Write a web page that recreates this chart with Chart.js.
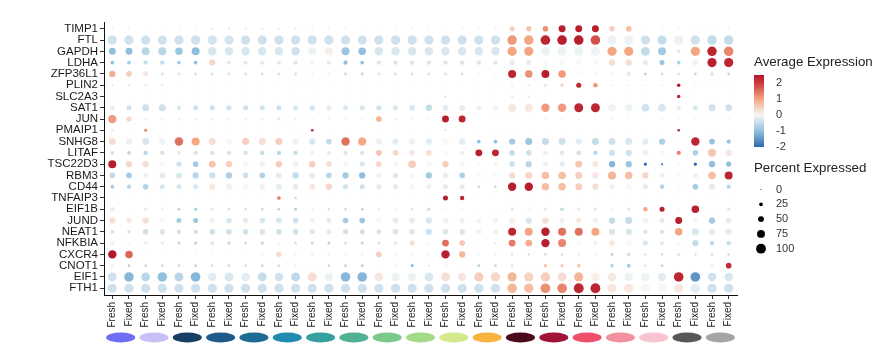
<!DOCTYPE html>
<html>
<head>
<meta charset="utf-8">
<script src="https://cdn.jsdelivr.net/npm/chart.js@4.4.1/dist/chart.umd.min.js"></script>
<style>
  body { margin: 0; background: #fff; }
  #wrap { width: 877px; height: 347px; }
</style>
</head>
<body>
<div id="wrap"><canvas id="chartId" width="877" height="347"></canvas></div>
<script>
var genes = ["TIMP1", "FTL", "GAPDH", "LDHA", "ZFP36L1", "PLIN2", "SLC2A3", "SAT1", "JUN", "PMAIP1", "SNHG8", "LITAF",
  "TSC22D3", "RBM3", "CD44", "TNFAIP3", "EIF1B", "JUND", "NEAT1", "NFKBIA", "CXCR4", "CNOT1", "EIF1", "FTH1"];
var conditions = ["Fresh", "Fixed"];
var groupColors = ["#6f6df2", "#c8c0f6", "#173e63", "#1d5a89", "#1e6b94", "#1f8bae", "#35a09f", "#4fb295", "#7cc98e",
  "#a3da87", "#d4e98c", "#f7b33c", "#4a0a1c", "#a0143a", "#ef4f6a", "#f4919f", "#f8c4d0", "#575757", "#a5a5a5"];

// percent expressed, one row per gene, 38 columns (19 groups x Fresh/Fixed)
var pct = [
  [4,4,4,4,4,4,11,11,6,6,8,11, 4,4,4,4,4,4,4,4,4,4,4,4, 40,43,47,63,63,63,43,47,4,4,4,11,4,4],
  [92,92,92,92,92,92,92,92,92,92,92,92, 92,92,92,92,92,92,92,92,92,92,92,92, 96,96,98,98,98,98,92,92,92,92,92,92,96,96],
  [63,63,76,76,70,76,82,82,82,82,82,82, 76,76,76,70,82,82,82,82,82,82,82,82, 92,92,88,88,88,88,92,92,88,76,25,92,96,96],
  [25,25,32,32,25,25,55,32,32,32,32,32, 32,32,32,25,32,32,32,32,32,32,32,32, 40,40,40,40,40,40,55,55,40,40,25,47,92,92],
  [55,47,40,18,18,18,18,18,18,18,18,18, 11,11,18,18,18,18,18,18,18,18,8,8, 76,70,76,70,18,18,18,32,14,14,14,14,25,14],
  [5,5,5,5,3,3,3,3,3,3,3,3, 4,4,4,4,4,4,4,4,4,4,4,4, 18,14,18,22,40,32,6,6,6,6,22,14,6,5],
  [3,3,3,3,3,3,3,3,3,3,3,3, 3,3,3,3,3,3,3,3,8,3,3,3, 14,11,3,3,3,3,3,3,3,3,22,3,3,3],
  [32,40,63,63,32,40,40,40,40,40,40,40, 47,40,40,40,40,40,47,55,47,47,40,40, 76,76,82,82,88,88,70,70,70,70,32,40,63,63],
  [80,40,18,14,14,14,14,14,14,14,22,14, 8,8,8,8,47,25,8,8,63,63,8,8, 8,8,6,6,6,6,6,6,6,6,6,6,6,6],
  [11,4,18,4,4,4,4,4,4,4,4,4, 14,4,4,4,4,4,4,4,8,4,4,4, 4,4,4,4,4,4,4,4,4,4,14,4,4,4],
  [63,55,63,55,82,76,63,55,63,63,63,55, 55,47,82,76,55,55,55,55,55,55,25,25, 55,63,63,63,55,63,63,63,55,55,5,82,47,32],
  [25,25,32,32,25,32,32,32,32,32,32,32, 25,25,32,32,47,47,47,47,32,25,63,63, 47,47,40,40,40,32,55,55,47,32,32,47,76,55],
  [76,55,55,40,40,47,63,55,47,47,55,47, 55,47,40,40,47,40,70,47,55,40,11,25, 47,55,40,40,63,47,55,55,18,11,11,18,55,40],
  [47,47,40,47,47,55,55,55,47,47,47,55, 47,47,55,55,40,40,40,55,40,47,25,25, 55,63,70,70,63,55,76,70,55,40,25,40,70,76],
  [25,32,47,40,40,40,55,55,47,47,47,47, 47,55,40,40,40,40,40,40,40,40,11,11, 82,82,70,70,63,55,47,40,40,32,18,47,47,32],
  [4,4,4,4,4,4,4,4,4,4,25,14, 4,4,4,4,4,4,4,4,40,32,4,4, 4,4,4,4,4,4,4,4,4,4,4,4,4,4],
  [32,6,18,18,14,18,14,14,14,14,14,14, 8,11,14,14,8,8,14,18,8,8,6,6, 18,18,18,25,18,18,14,18,32,40,11,70,8,18],
  [55,40,55,40,40,40,40,47,47,47,47,47, 40,40,47,47,40,47,47,55,47,40,32,40, 55,55,55,40,47,40,55,63,47,40,63,47,55,47],
  [25,25,47,47,32,32,47,47,47,47,47,47, 40,40,40,40,40,47,47,55,47,47,40,40, 76,76,82,76,76,76,55,55,32,32,70,63,55,55],
  [32,18,32,18,18,18,25,25,18,18,25,18, 18,18,18,18,18,18,40,25,63,47,8,11, 63,63,82,76,32,32,47,40,40,25,25,55,32,32],
  [82,70,11,11,11,11,11,11,11,14,47,25, 14,14,14,14,47,25,25,25,82,55,8,8, 14,11,14,14,11,8,18,18,14,14,18,14,18,14],
  [11,14,14,14,14,14,14,14,14,14,14,8, 8,14,14,14,8,8,14,8,11,8,14,14, 18,11,22,22,25,5,25,25,14,14,6,5,14,47],
  [88,96,88,96,88,98,82,88,82,88,82,88, 88,82,98,98,82,82,76,88,88,82,92,92, 92,92,92,88,92,82,82,82,82,82,98,98,82,82],
  [92,92,92,92,92,92,92,92,92,92,92,92, 92,92,92,92,92,92,92,92,92,92,92,92, 96,96,98,98,100,100,92,92,92,92,92,92,92,92]
];

// average expression (scaled), same layout
var avgExp = [
  [-0.3,-0.3,-0.2,-0.2,-0.3,-0.3,-0.2,-0.2,-0.3,-0.3,-0.2,-0.2, -0.3,-0.3,-0.3,-0.3,-0.3,-0.3,-0.3,-0.3,-0.3,-0.3,-0.3,-0.3, 0.5,0.6,1.2,2.4,2.4,2.4,0.5,0.7,-0.3,-0.3,-0.3,0,-0.3,-0.3],
  [-0.4,-0.4,-0.4,-0.4,-0.4,-0.4,-0.35,-0.35,-0.4,-0.4,-0.4,-0.4, -0.4,-0.4,-0.4,-0.4,-0.4,-0.4,-0.4,-0.4,-0.4,-0.4,-0.4,-0.4, 1.1,1.0,2.3,2.4,2.4,1.8,-0.1,-0.1,-0.4,-0.5,-0.1,-0.4,-0.5,-0.5],
  [-1.0,-1.0,-0.6,-0.6,-0.9,-1.0,-0.3,-0.3,-0.3,-0.3,-0.3,-0.4, -0.1,0.1,-0.9,-1.0,-0.3,-0.3,-0.3,-0.3,-0.3,-0.3,-0.3,-0.3, 1.0,1.0,-0.1,-0.1,-0.1,-0.1,1.0,1.0,-0.5,-0.8,-0.2,1.0,2.3,1.3],
  [-1.0,-0.8,-0.5,-0.5,-0.8,-1.0,0.4,-0.2,-0.2,-0.2,-0.2,-0.3, -0.1,-0.2,-1.0,-1.0,-0.3,-0.3,-0.3,-0.3,-0.3,-0.3,-0.3,-0.3, -0.2,-0.2,0,0,0,0,0.3,0.3,-0.2,-0.9,-0.7,-0.1,2.4,2.3],
  [0.9,0.5,0.2,-0.3,-0.3,-0.3,-0.3,-0.3,-0.3,-0.3,-0.3,-0.3, -0.1,-0.1,-0.4,-0.5,-0.3,-0.3,-0.3,-0.3,-0.3,-0.3,-0.1,-0.1, 2.3,1.2,2.4,1.1,0,0,0,-0.2,-0.7,-0.5,-0.3,-0.5,-0.3,-0.6],
  [-0.4,-0.4,-0.4,-0.4,0,0,0,0,0,0,0,0, -0.1,-0.1,-0.1,-0.1,-0.1,-0.1,-0.1,-0.1,-0.1,-0.1,-0.1,-0.1, -0.1,-0.1,0.3,0.4,2.3,1.2,-0.2,-0.2,-0.2,-0.2,2.5,0,-0.1,-0.1],
  [0,0,0,0,0,0,0,0,0,0,0,0, 0,0,0,0,0,0,0,0,0.5,0,0,0, 0.2,0.2,0,0,0,0,0,0,0,0,2.4,0,0,0],
  [-0.2,-0.4,-0.4,-0.4,-0.3,-0.4,-0.4,-0.4,-0.4,-0.4,-0.4,-0.3, -0.3,-0.2,-0.3,-0.3,-0.4,-0.3,-0.3,-0.5,-0.2,-0.2,-0.1,-0.1, 0.2,0.2,1.1,1.1,2.3,2.3,-0.1,-0.1,-0.4,-0.3,0.2,-0.3,-0.4,-0.4],
  [1.1,0.4,0.1,-0.1,-0.1,-0.1,-0.1,-0.1,-0.1,-0.1,0.2,-0.1, -0.1,-0.1,-0.1,-0.1,0.8,0.1,-0.1,-0.1,2.4,2.3,0,0, 0,0,-0.1,-0.1,-0.1,-0.1,-0.1,-0.1,-0.1,-0.1,-0.1,-0.1,-0.1,-0.1],
  [0.2,0,1.3,0,0,0,0,0,0,0,0,0, 2.3,0,0,0,0,0,0,0,-0.3,0,0,0, 0,0,0,0,0,0,0,0,0,0,2.3,0,0,0],
  [0.3,-0.1,-0.3,-0.1,1.5,1.0,0.3,0,0.5,0.3,0.5,0.1, -0.3,-0.5,1.5,1.0,-0.1,-0.2,-0.1,-0.2,0,-0.2,-1.0,-1.0, -0.8,-0.9,-0.5,-0.4,-0.2,-0.5,-0.4,-0.3,-0.2,-0.7,0,2.3,-1.0,-0.9],
  [-0.4,-0.6,-0.6,-0.4,-0.2,-0.3,-0.4,-0.3,-0.4,-0.5,-0.6,-0.5, -0.1,-0.2,-0.3,-0.3,0.6,0.4,0.2,0.3,0,-0.2,2.4,2.3, -0.5,-0.4,-0.1,-0.2,-0.3,-0.6,-0.4,-0.4,-0.1,0,1.3,-0.7,0.6,0.2],
  [2.4,0.4,0.3,0,-0.4,-0.8,0.6,0.5,0,-0.1,0.5,0.1, 0.5,0.3,0,-0.3,0.4,0,0.5,0,0.5,0,0,-0.1, -0.4,-0.6,-0.1,-0.2,0.6,0.2,-1.1,-0.9,-2.0,-1.5,0,-2.0,-1.0,-1.0],
  [-0.5,-0.8,-0.1,-0.2,-0.3,-0.6,-0.4,-0.7,-0.4,-0.7,-0.2,-0.5, -0.2,-0.6,-0.8,-1.0,-0.1,-0.3,0,-0.8,-0.2,-0.7,0,0, 0.3,0.4,0.7,0.7,0.5,0.2,0.8,0.7,0.4,-0.1,0,-0.1,0.7,2.3],
  [-0.8,-0.6,-0.7,-0.3,-0.3,-0.3,0.2,0.1,0,-0.1,-0.2,-0.2, 0.2,0.4,-0.4,-0.4,-0.2,-0.2,0,-0.1,-0.2,-0.2,-0.7,-0.6, 2.4,2.4,0.7,0.7,0.5,0.3,0.1,0,-0.2,-0.7,0,-0.8,-0.2,-0.6],
  [0,0,0,0,0,0,0,0,0,0,1.4,0.5, 0,0,0,0,0,0,0,0,2.4,2.3,0,0, 0,0,0,0,0,0,0,0,0,0,0,0,0,0],
  [0.2,0,-0.2,-0.1,-0.7,-0.8,-0.3,-0.4,-0.4,-0.5,-0.7,-0.85, -0.2,-0.4,-0.5,-0.6,-0.3,-0.2,-0.3,-0.5,-0.1,-0.1,0,0, 0.3,0,-0.2,-0.5,-0.2,-0.3,0,-0.3,1.0,2.4,0,2.4,0,0.3],
  [0.3,0.2,0.3,0,-0.8,-0.9,-0.1,-0.3,-0.2,-0.3,-0.3,-0.4, -0.1,-0.2,-0.8,-0.9,0,-0.2,-0.2,-0.3,-0.1,-0.1,-0.1,-0.1, 0.1,-0.3,0.3,-0.1,0.2,-0.1,-0.5,-0.5,-0.1,-0.2,2.4,0,-0.8,-0.2],
  [-0.4,-0.3,-0.4,-0.3,-0.4,-0.4,-0.4,-0.4,-0.4,-0.3,-0.4,-0.4, -0.3,-0.2,-0.4,-0.4,-0.3,-0.3,-0.3,-0.4,-0.3,-0.3,-0.1,-0.1, 2.3,1.0,2.4,1.5,1.5,1.0,-0.3,-0.3,-0.3,-0.3,1.0,-0.3,-0.2,-0.2],
  [-0.1,0,-0.1,-0.2,-0.5,-0.6,-0.3,-0.4,-0.4,-0.6,0,-0.3, -0.5,-0.6,-0.4,-0.6,-0.3,-0.3,0.3,0,1.5,0.6,0,-0.2, 1.4,0.9,2.4,1.3,0,-0.1,0.2,0,-0.3,-0.3,0,-0.5,-0.6,-0.5],
  [2.5,1.6,0,0,0,0,0,0,0,0,0.3,0, -0.1,-0.1,-0.1,-0.1,0.5,0,0,0,2.4,0.8,-0.1,-0.2, -0.3,-0.4,-0.4,-0.3,-0.2,-0.2,-0.6,-0.5,-0.3,-0.4,0.3,-0.3,-0.3,-0.4],
  [0.3,-0.6,-0.5,-0.5,-0.5,-0.6,-0.4,-0.5,-0.4,-0.5,-0.4,-0.2, 0,-0.5,-0.6,-0.7,0,-0.2,-1.2,-0.3,0.1,0,-0.7,-0.5, 0.3,0,0.6,0.5,0.6,0,-0.6,-0.8,-0.3,-0.6,0,0,0.2,2.2],
  [-0.4,-1.1,-0.6,-1.0,-0.6,-1.1,-0.2,-0.3,-0.2,-0.5,-0.4,-0.55, 0.3,-0.1,-1.1,-1.1,0.2,-0.1,-0.1,-0.3,0.3,0.2,0.5,0.4, 0.8,0.45,0.5,0.3,0.8,0.1,0.2,-0.1,-0.1,-0.2,2.3,-1.5,-0.4,-0.3],
  [-0.4,-0.4,-0.4,-0.4,-0.4,-0.4,-0.4,-0.4,-0.4,-0.4,-0.4,-0.4, -0.4,-0.4,-0.4,-0.4,-0.4,-0.4,-0.4,-0.4,-0.4,-0.4,-0.4,-0.4, 0.8,0.7,1.2,1.3,2.3,2.3,0.2,0.2,0,0,0.2,-0.2,-0.4,-0.4]
];

var colorTicks = [2, 1, 0, -1, -2];
var sizeTicks = [0, 25, 50, 75, 100];

var FONT = "'Liberation Sans', Arial, sans-serif";

// x labels: Fresh, Fixed repeated for every group
var xLabels = [];
for (var g = 0; g < groupColors.length; g++) {
  xLabels.push(conditions[0], conditions[1]);
}

// RdBu like ramp
var stops = [
  [-2, [44, 106, 174]],
  [-1, [144, 192, 221]],
  [0, [247, 247, 247]],
  [1, [244, 165, 130]],
  [2, [204, 58, 58]],
  [2.5, [178, 24, 43]]
];
function colorFor(v) {
  if (v <= stops[0][0]) return "rgb(" + stops[0][1].join(",") + ")";
  for (var i = 1; i < stops.length; i++) {
    if (v <= stops[i][0]) {
      var a = stops[i - 1], b = stops[i];
      var t = (v - a[0]) / (b[0] - a[0]);
      var c = [0, 1, 2].map(function (k) { return Math.round(a[1][k] + (b[1][k] - a[1][k]) * t); });
      return "rgb(" + c.join(",") + ")";
    }
  }
  return "rgb(" + stops[stops.length - 1][1].join(",") + ")";
}
function radiusFor(p) {
  return 0.5 + 4.4 * Math.pow(p / 100, 0.85);
}

var points = [];
var colors = [];
for (var r = 0; r < genes.length; r++) {
  for (var c = 0; c < xLabels.length; c++) {
    points.push({ x: c, y: r, r: radiusFor(pct[r][c]) });
    colors.push(colorFor(avgExp[r][c]));
  }
}

// ellipses under the axis and the two legends on the right
var extras = {
  id: "extras",
  afterDraw: function (chart) {
    var ctx = chart.ctx;
    var xs = chart.scales.x;
    ctx.save();
    for (var g = 0; g < groupColors.length; g++) {
      var cx = (xs.getPixelForValue(2 * g) + xs.getPixelForValue(2 * g + 1)) / 2;
      ctx.beginPath();
      ctx.ellipse(cx, 337.5, 14.5, 5, 0, 0, 2 * Math.PI);
      ctx.fillStyle = groupColors[g];
      ctx.fill();
    }

    ctx.fillStyle = "#222";
    ctx.font = "13.3px " + FONT;
    ctx.textBaseline = "middle";
    ctx.textAlign = "left";
    ctx.fillText("Average Expression", 754, 62);

    var grad = ctx.createLinearGradient(0, 75, 0, 147);
    for (var v = 2.5; v >= -2.001; v -= 0.25) {
      grad.addColorStop((2.5 - v) / 4.5, colorFor(v));
    }
    ctx.fillStyle = grad;
    ctx.fillRect(754, 75, 10, 72);

    ctx.font = "11px " + FONT;
    ctx.fillStyle = "#333";
    colorTicks.forEach(function (t) {
      ctx.fillText(String(t), 776, 115 - 16 * t);
    });

    ctx.fillStyle = "#222";
    ctx.font = "13.3px " + FONT;
    ctx.fillText("Percent Expressed", 754, 168);
    ctx.font = "11px " + FONT;
    sizeTicks.forEach(function (s, i) {
      var y = 189.5 + 14.8 * i;
      ctx.beginPath();
      ctx.arc(761, y, radiusFor(s), 0, 2 * Math.PI);
      ctx.fillStyle = "#000";
      ctx.fill();
      ctx.fillStyle = "#333";
      ctx.fillText(String(s), 776, y);
    });
    ctx.restore();
  }
};

var chrt = document.getElementById("chartId").getContext("2d");
var chartId = new Chart(chrt, {
  type: "bubble",
  data: {
    datasets: [
      {
        data: points,
        backgroundColor: colors,
        borderWidth: 0,
        hoverRadius: 0
      }
    ]
  },
  options: {
    responsive: false,
    animation: false,
    events: [],
    layout: { padding: { top: 22, right: 140, left: 0, bottom: 0 } },
    plugins: { legend: { display: false }, tooltip: { enabled: false } },
    scales: {
      x: {
        type: "linear",
        min: -0.5,
        max: 37.5,
        afterBuildTicks: function (scale) {
          scale.ticks = xLabels.map(function (l, i) { return { value: i }; });
        },
        afterFit: function (scale) { scale.height = 52; },
        grid: { drawOnChartArea: false, tickLength: 4, color: "#333" },
        border: { color: "#111", width: 1 },
        ticks: {
          autoSkip: false,
          maxRotation: 90,
          minRotation: 90,
          padding: 3,
          color: "#222",
          font: { family: FONT, size: 10 },
          callback: function (v) { return xLabels[v]; }
        }
      },
      y: {
        type: "linear",
        min: -0.6,
        max: 23.6,
        reverse: true,
        afterBuildTicks: function (scale) {
          scale.ticks = genes.map(function (l, i) { return { value: i }; });
        },
        afterFit: function (scale) { scale.width = 104; },
        grid: { drawOnChartArea: false, tickLength: 4, color: "#333" },
        border: { color: "#111", width: 1 },
        ticks: {
          autoSkip: false,
          padding: 2,
          color: "#1a1a1a",
          font: { family: FONT, size: 11.5 },
          callback: function (v) { return genes[v]; }
        }
      }
    }
  },
  plugins: [extras]
});
</script>
</body>
</html>
